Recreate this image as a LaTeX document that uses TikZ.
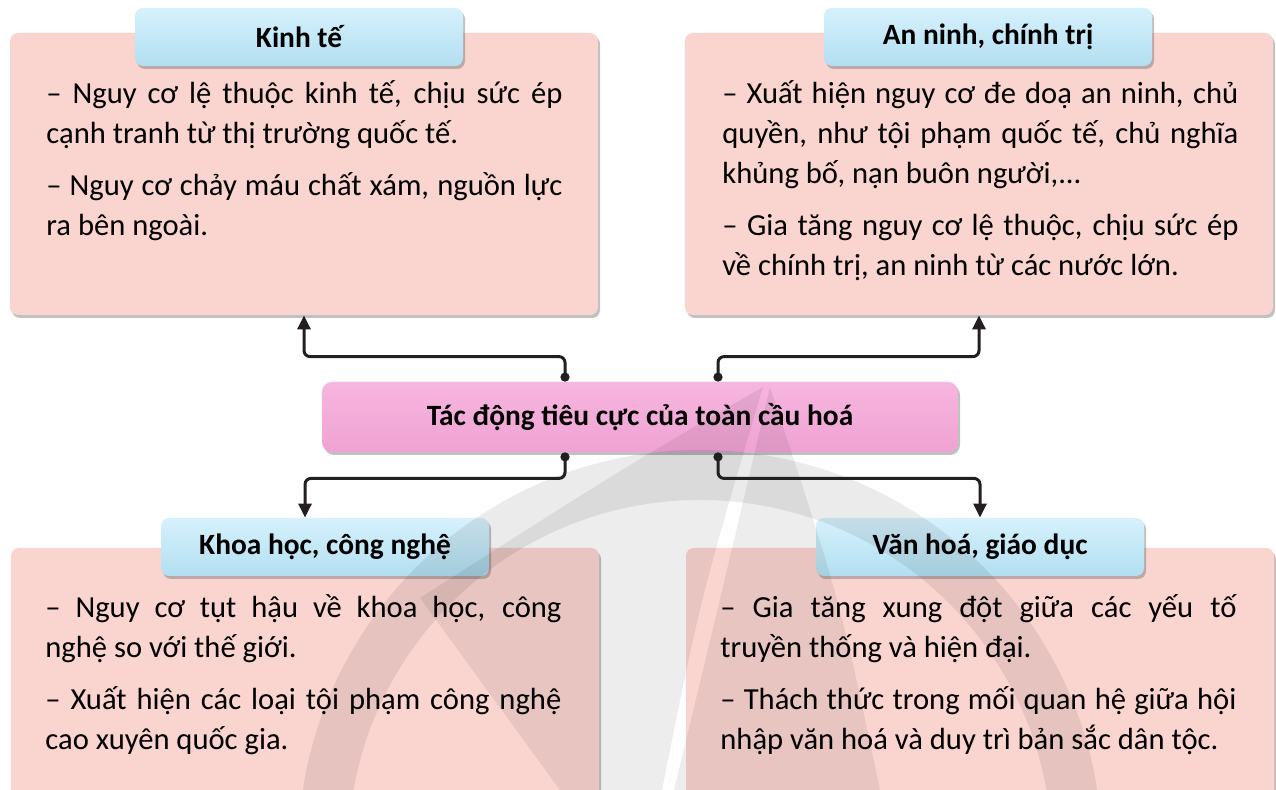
\documentclass[tikz,border=0pt]{standalone}
\usepackage{fontspec}
\setmainfont{Carlito}
\usetikzlibrary{arrows.meta,shadows}

\definecolor{cardpink}{RGB}{250,212,207}
\definecolor{headtop}{RGB}{214,241,252}
\definecolor{headbot}{RGB}{178,223,241}
\definecolor{coretop}{RGB}{246,182,223}
\definecolor{corebot}{RGB}{240,162,211}
\definecolor{wirecol}{RGB}{35,31,32}

\begin{document}
\begin{tikzpicture}[x=0.5pt,y=-0.5pt,
	cardbox/.style={fill=cardpink, rounded corners=4pt, minimum width=294pt, inner sep=0pt,
		drop shadow={shadow xshift=1pt, shadow yshift=-1.5pt, fill=black!60, opacity=0.4}},
	headbox/.style={top color=headtop, bottom color=headbot, rounded corners=4pt,
		minimum width=164pt, minimum height=29pt, inner sep=0pt,
		font=\fontsize{14.7}{16}\selectfont\bfseries,
		drop shadow={shadow xshift=1pt, shadow yshift=-1.5pt, fill=black!60, opacity=0.4}},
	corebox/.style={top color=coretop, bottom color=corebot, rounded corners=5pt,
		minimum width=318pt, minimum height=35pt, inner sep=0pt,
		font=\fontsize{14.7}{16}\selectfont\bfseries,
		drop shadow={shadow xshift=1pt, shadow yshift=-1.5pt, fill=black!60, opacity=0.4}},
	bodytext/.style={anchor=base west, inner sep=0pt, text width=258pt, align=justify,
		font=\fontsize{15.3}{20}\selectfont},
	link/.style={draw=wirecol, line width=1.5pt, rounded corners=3pt,
		{Circle[length=4.5pt]}-{Triangle[length=7pt,width=6.5pt]}},
	logo/.style={fill=black, opacity=0.07}
	]
	\useasboundingbox (0,0) rectangle (1276,790);
	\fill[white] (0,0) rectangle (1276,790);
	% boxes
	\node[cardbox, minimum height=141pt] (kt) at (304,174) {};
	\node[cardbox, minimum height=141pt] (an) at (979,174) {};
	\node[cardbox, minimum height=126pt] (kh) at (305,674) {};
	\node[cardbox, minimum height=126pt] (vh) at (980,674) {};
	\node[headbox] (kthead) at (299,37) {Kinh tế};
	\node[headbox] (anhead) at (988,37) {An ninh, chính trị};
	\node[headbox] (khhead) at (325,547) {Khoa học, công nghệ};
	\node[headbox] (vhhead) at (980,547) {Văn hoá, giáo dục};
	\node[corebox] (core) at (640,417) {Tác động tiêu cực của toàn cầu hoá};
	% texts
	\node[bodytext] (kttext) at (46,104) {– Nguy cơ lệ thuộc kinh tế, chịu sức ép\linebreak
		cạnh tranh từ thị trường quốc tế.\\[6pt]
		– Nguy cơ chảy máu chất xám, nguồn lực\linebreak ra bên ngoài.};
	\node[bodytext] (antext) at (722,104) {– Xuất hiện nguy cơ đe doạ an ninh, chủ\linebreak
		quyền, như tội phạm quốc tế, chủ nghĩa\linebreak khủng bố, nạn buôn người,...\\[6pt]
		– Gia tăng nguy cơ lệ thuộc, chịu sức ép\linebreak về chính trị, an ninh từ các nước lớn.};
	\node[bodytext] (khtext) at (45,618) {– Nguy cơ tụt hậu về khoa học, công\linebreak
		nghệ so với thế giới.\\[6pt]
		– Xuất hiện các loại tội phạm công nghệ\linebreak cao xuyên quốc gia.};
	\node[bodytext] (vhtext) at (720,618) {– Gia tăng xung đột giữa các yếu tố\linebreak
		truyền thống và hiện đại.\\[6pt]
		– Thách thức trong mối quan hệ giữa hội\linebreak nhập văn hoá và duy trì bản sắc dân tộc.};
	% watermark
	\draw[black, opacity=0.08, line width=25pt] (700,852) ++(185:377) arc[start angle=185, end angle=355, radius=377];
	\fill[logo] (763,387) .. controls (620,470) .. (420,598) -- (560,790) -- (662,790) .. controls (700,600) .. (763,387);
	\fill[logo] (770,387) .. controls (720,600) .. (674,790) -- (880,790) .. controls (840,600) .. (770,387);
	% arrows
	\draw[link] ([xshift=-37.5pt]core.north) -- ++(0,-25) -| (kt.south);
	\draw[link] ([xshift=39pt]core.north) -- ++(0,-25) -| (an.south);
	\draw[link] ([xshift=-37.5pt]core.south) -- ++(0,26) -| (kh.south |- khhead.north);
	\draw[link] ([xshift=39pt]core.south) -- ++(0,26) -| (vh.south |- vhhead.north);
\end{tikzpicture}
\end{document}
